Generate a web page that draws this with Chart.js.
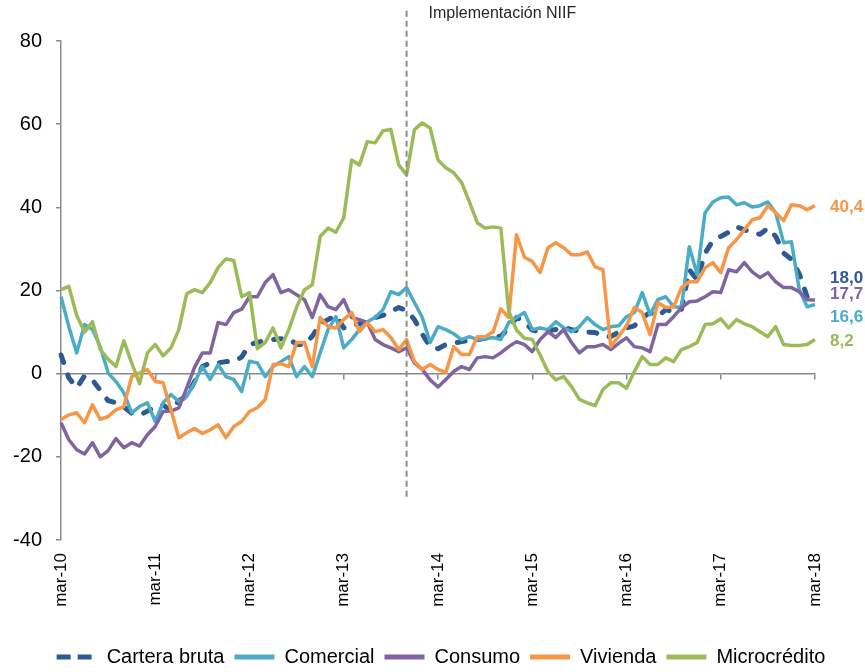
<!DOCTYPE html>
<html>
<head>
<meta charset="utf-8">
<script src="https://cdn.jsdelivr.net/npm/chart.js@4.4.1/dist/chart.umd.min.js"></script>
<style>
  html, body { margin: 0; padding: 0; background: #ffffff; }
  #wrap { width: 865px; height: 672px; }
</style>
</head>
<body>
<div id="wrap"><canvas id="c" width="865" height="672"></canvas></div>
<script>
// ---------- categories ----------
const months = [
  'mar-10','abr-10','may-10','jun-10','jul-10','ago-10','sep-10','oct-10','nov-10','dic-10',
  'ene-11','feb-11','mar-11','abr-11','may-11','jun-11','jul-11','ago-11','sep-11','oct-11','nov-11','dic-11',
  'ene-12','feb-12','mar-12','abr-12','may-12','jun-12','jul-12','ago-12','sep-12','oct-12','nov-12','dic-12',
  'ene-13','feb-13','mar-13','abr-13','may-13','jun-13','jul-13','ago-13','sep-13','oct-13','nov-13','dic-13',
  'ene-14','feb-14','mar-14','abr-14','may-14','jun-14','jul-14','ago-14','sep-14','oct-14','nov-14','dic-14',
  'ene-15','feb-15','mar-15','abr-15','may-15','jun-15','jul-15','ago-15','sep-15','oct-15','nov-15','dic-15',
  'ene-16','feb-16','mar-16','abr-16','may-16','jun-16','jul-16','ago-16','sep-16','oct-16','nov-16','dic-16',
  'ene-17','feb-17','mar-17','abr-17','may-17','jun-17','jul-17','ago-17','sep-17','oct-17','nov-17','dic-17',
  'ene-18','feb-18','mar-18'
];

// ---------- series values ----------
const carteraBruta = [
  4.5, -1, -3.4, -0.5, -1.5, -4, -6.5, -7, -8, -9.5,
  -10, -9, -8, -7.5, -9, -6.5, -5.5, -1.9, 1.7, 2.6,
  2.6, 2.9, 2.9, 4, 7, 7.5, 8, 8.2, 8.4, 8.5,
  7, 7, 9, 12, 13, 14, 11, 11.5, 12, 12.5,
  13.5, 14, 15, 15.9, 15.2, 13, 9.5, 6.5, 6, 7,
  7.3, 7.7, 8, 8.2, 8.5, 8.8, 9, 11, 13.5, 12.5,
  10.5, 10, 10.3, 10.6, 11.2, 10.6, 10.2, 10, 9.9, 9,
  8.9, 10, 11, 11.5, 13.5, 14.7, 13.8, 15.4, 14.8, 15.5,
  25, 22.5, 29, 32, 33, 34, 35.3, 34.6, 34, 33.5,
  35, 33, 29, 27.5, 24, 18.5, 18.0
];
const comercial = [
  18.5, 11.3, 5, 11.8, 10.6, 6.5, 0.2, -1.9, -4.6, -9.4,
  -7.9, -7, -11.5, -7, -5, -6.7, -5.5, -2.2, 1.7, -1.4,
  2.2, -0.7, -1.4, -4.3, 3, 2.6, -0.7, 1.7, 2.9, 4.1,
  -0.7, 1.7, -0.7, 5, 10.6, 13.7, 6.2, 8.2, 10.6, 12.5,
  13.5, 15.4, 19.7, 19, 20.7, 17.1, 13.5, 7.5, 11.3, 10.6,
  9.6, 8.2, 8.9, 8.2, 8.4, 8.7, 8.2, 12.3, 13.5, 14.7,
  10.6, 11, 10.6, 12.5, 11, 10.1, 11.3, 13.5, 11.8, 10.6,
  11.3, 11.5, 13.7, 14.7, 19.5, 14.2, 17.8, 18.5, 16.1, 15.9,
  30.5, 23.8, 38.7, 41.3, 42.3, 42.5, 40.6, 41.1, 40.1, 40.4,
  41.3, 38.7, 31.5, 31.7, 20.2, 16.1, 16.6
];
const consumo = [
  -11.8, -15.9, -18.3, -19.3, -16.6, -20, -18.5, -15.6, -17.8, -16.6,
  -17.4, -14.7, -12.7, -9.1, -9, -8.2, -3.5, 1.5, 5, 5,
  12.3, 11.8, 14.7, 15.5, 18.5, 18.5, 21.9, 23.8, 19.5, 20.2,
  19, 17.8, 13.5, 19, 16.1, 15.4, 17.8, 13.5, 13, 12.3,
  8.2, 7, 6.2, 5.3, 6.2, 2.6, 1, -1.5, -3.2, -1.4,
  0.5, 1.7, 1, 3.8, 4.1, 3.8, 5, 6.5, 7.7, 7,
  5.3, 8.2, 10.1, 8.7, 10.6, 7.5, 5, 6.5, 6.5, 7,
  5.8, 7.3, 8.6, 6.5, 6.2, 5.3, 11.8, 11.8, 13.7, 15.9,
  17.3, 17.5, 18.5, 19.7, 19.5, 25, 24.5, 26.7, 24.5, 23.1,
  24.3, 22.1, 20.7, 20.7, 19.7, 17.8, 17.7
];
const vivienda = [
  -11, -9.9, -9.4, -11.8, -7.5, -11, -10.3, -8.7, -7.9, -0.7,
  0.2, 1, -1.9, -2.2, -8.7, -15.4, -14.2, -13.2, -14.4, -13.5,
  -12.3, -15.4, -12.7, -11.5, -9.1, -8.2, -6.2, 2.2, 2.4, 1.7,
  7.5, 7.5, 1.7, 13.5, 11.3, 11, 13, 14.7, 10.1, 12.3,
  10.1, 10.6, 8.7, 5.8, 8.2, 2.9, 1, 2.2, 1, 0.3,
  6.5, 4.6, 4.6, 8.9, 8.9, 10, 15.6, 13.5, 33.4, 28,
  27, 24.3, 30.3, 31.5, 30.3, 28.6, 28.6, 29.3, 25.7, 25,
  6.5, 9, 11.5, 15.9, 14.7, 9.4, 17.1, 15.9, 16.1, 20.7,
  22.1, 22.1, 25.5, 26.7, 24.3, 30.3, 32.2, 34.6, 37, 37.5,
  40.4, 38.7, 36.8, 40.6, 40.4, 39.4, 40.4
];
const microcredito = [
  20.2, 21, 14, 10, 12.5, 5.8, 3.5, 1.7, 7.9, 2.6,
  -2.4, 5, 7, 4.3, 6.2, 10.6, 19.2, 20.2, 19.5, 21.9,
  25.5, 27.6, 27.2, 18.5, 19.5, 6, 7.5, 11, 6.2, 10.6,
  16, 20.2, 21.4, 33, 35, 34, 37.5, 51.4, 50.2, 55.8,
  55.5, 58.4, 58.7, 50.2, 47.8, 58.7, 60.3, 59.1, 51.4, 49.5,
  48.3, 46, 41.3, 36.3, 35, 35.3, 35, 15, 10.5, 8.5,
  8.2, 4.5, 0.5, -1.5, -0.7, -3.1, -6.2, -7, -7.7, -3.8,
  -2.2, -2.2, -3.5, 0.5, 4.1, 2.2, 2.2, 3.8, 2.9, 5.8,
  6.5, 7.5, 11.8, 12, 13.2, 11, 13, 12, 11.3, 10.1,
  8.9, 11.3, 7, 6.8, 6.8, 7, 8.2
];
const seriesNames = ['Cartera bruta', 'Comercial', 'Consumo', 'Vivienda', 'Microcrédito'];

// ---------- axis / annotation values ----------
const yMin = -40, yMax = 80, yStep = 20;
const yearTickEvery = 12;
const niifMonth = 'nov-13';
const niifLabel = 'Implementación NIIF';
const niifLineBottom = -29.6;
const niifLineTop = 87.5;

// ---------- styles ----------
const seriesData = [carteraBruta, comercial, consumo, vivienda, microcredito];
const colors = ['#2D5A93', '#4BACC6', '#8064A2', '#F79646', '#9BBB59'];
const axisGray = '#8a8a8a';
const FONT = "'Liberation Sans', Arial, Helvetica, sans-serif";
const endLabelShift = [-21, 13, -6, 2, 2];

const datasets = seriesData.map((d, i) => ({
  label: seriesNames[i],
  data: d,
  borderColor: colors[i],
  backgroundColor: colors[i],
  borderWidth: i === 0 ? 5 : 3.5,
  borderDash: i === 0 ? [8, 13] : [],
  borderCapStyle: i === 0 ? 'round' : 'butt',
  borderJoinStyle: 'round',
  pointRadius: 0,
  pointHoverRadius: 0,
  tension: 0,
  fill: false,
  order: 5 - i
}));
datasets.push({
  label: niifLabel,
  data: [{ x: niifMonth, y: niifLineBottom }, { x: niifMonth, y: niifLineTop }],
  borderColor: '#8c8c8c',
  borderWidth: 2,
  borderDash: [6, 4],
  pointRadius: 0,
  fill: false,
  clip: false,
  order: 0
});

const niifPlugin = {
  id: 'niifText',
  afterDatasetsDraw(chart) {
    const { ctx, scales: { x, y } } = chart;
    const px = x.getPixelForValue(months.indexOf(niifMonth));
    const py = y.getPixelForValue(niifLineTop);
    ctx.save();
    ctx.font = '16px ' + FONT;
    ctx.fillStyle = '#262626';
    ctx.textAlign = 'left';
    ctx.textBaseline = 'middle';
    ctx.fillText(niifLabel, px + 22, py + 4);
    ctx.restore();
  }
};

const endLabelsPlugin = {
  id: 'endLabels',
  afterDatasetsDraw(chart) {
    const { ctx, scales: { x, y } } = chart;
    ctx.save();
    ctx.font = 'bold 17px ' + FONT;
    ctx.textAlign = 'left';
    ctx.textBaseline = 'middle';
    seriesData.forEach((d, i) => {
      const last = d.length - 1;
      const v = d[last];
      ctx.fillStyle = colors[i];
      ctx.fillText(v.toFixed(1).replace('.', ','), x.getPixelForValue(last) + 15, y.getPixelForValue(v) + endLabelShift[i]);
    });
    ctx.restore();
  }
};

new Chart(document.getElementById('c'), {
  type: 'line',
  data: { labels: months, datasets },
  options: {
    responsive: false,
    animation: false,
    events: [],
    layout: { padding: { top: 41, left: 5, right: -12, bottom: -5 } },
    scales: {
      x: {
        type: 'category',
        position: 'bottom',
        grid: { display: false, drawTicks: false },
        border: { display: false },
        ticks: {
          autoSkip: false,
          maxRotation: 90,
          minRotation: 90,
          padding: 13,
          color: '#000',
          font: { family: FONT, size: 17 },
          callback: function (v, i) { return i % yearTickEvery === 0 ? this.getLabelForValue(v) : ''; }
        },
        afterFit: (s) => { s.height = 97; }
      },
      x0: {
        type: 'category',
        position: { y: 0 },
        grid: {
          drawOnChartArea: false,
          drawTicks: true,
          tickLength: 5,
          lineWidth: 1.5,
          tickColor: (c) => (c.index % yearTickEvery === 0 ? axisGray : 'rgba(0,0,0,0)')
        },
        border: { display: true, color: axisGray, width: 1.5 },
        ticks: { display: false, autoSkip: false }
      },
      y: {
        type: 'linear',
        position: 'left',
        min: yMin,
        max: yMax,
        ticks: {
          stepSize: yStep,
          padding: 14,
          color: '#000',
          font: { family: FONT, size: 20 }
        },
        grid: { drawOnChartArea: false, drawTicks: true, tickLength: 5, tickColor: axisGray, lineWidth: 1.5 },
        border: { display: true, color: axisGray, width: 1.5 },
        afterFit: (s) => { s.width = 56; }
      },
      yR: {
        type: 'linear',
        position: 'right',
        min: yMin,
        max: yMax,
        grid: { display: false },
        border: { display: false },
        ticks: { display: false },
        afterFit: (s) => { s.width = 62; }
      }
    },
    plugins: {
      tooltip: { enabled: false },
      legend: {
        position: 'bottom',
        labels: {
          usePointStyle: true,
          pointStyle: 'line',
          pointStyleWidth: 40,
          padding: 10,
          color: '#000',
          font: { family: FONT, size: 20 },
          generateLabels: (chart) => chart.data.datasets.slice(0, seriesNames.length).map((ds, i) => ({
            text: ds.label,
            datasetIndex: i,
            fillStyle: ds.borderColor,
            strokeStyle: ds.borderColor,
            fontColor: '#000',
            lineWidth: 5,
            lineDash: i === 0 ? [14, 7] : [],
            lineCap: 'butt',
            pointStyle: 'line',
            hidden: false
          }))
        }
      }
    }
  },
  plugins: [niifPlugin, endLabelsPlugin]
});
</script>
</body>
</html>
